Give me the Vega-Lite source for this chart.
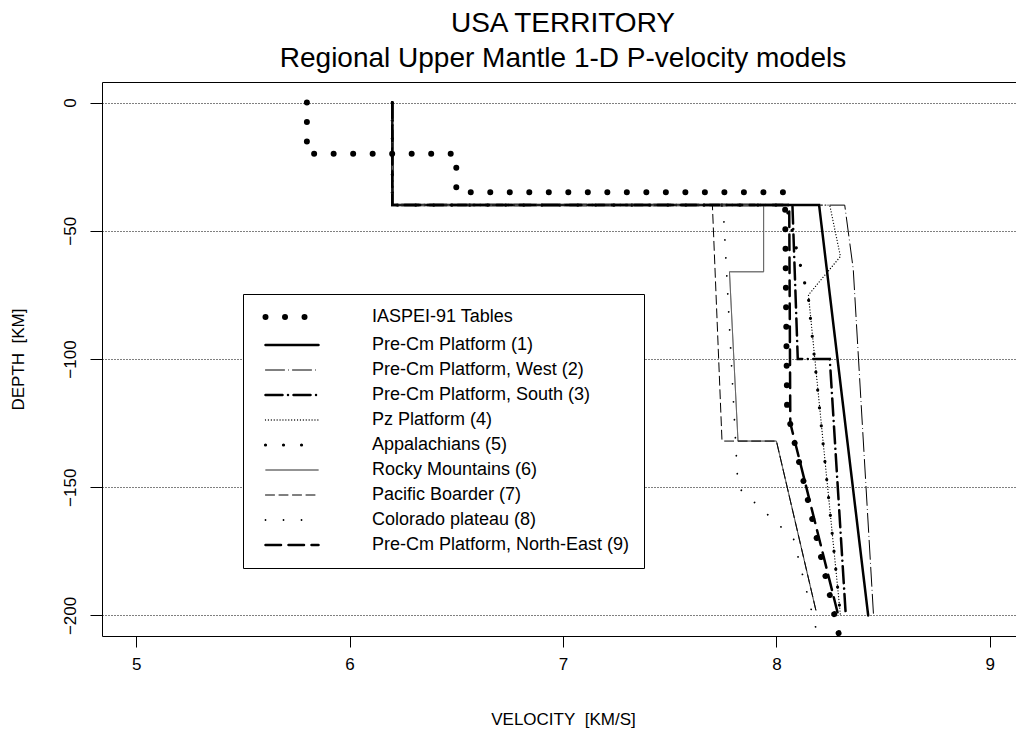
{
  "$schema": "https://vega.github.io/schema/vega-lite/v6.json",
  "autosize": {"type": "none"},
  "width": 922,
  "height": 554,
  "padding": {"left": 102, "top": 82, "right": 0, "bottom": 93},
  "background": "white",
  "title": {
    "text": ["USA TERRITORY", "Regional Upper Mantle 1-D P-velocity models"],
    "anchor": "middle",
    "font": "Liberation Sans",
    "fontSize": 28,
    "fontWeight": "normal",
    "color": "black",
    "lineHeight": 35,
    "offset": 9
  },
  "config": {
    "view": {"stroke": "black", "strokeWidth": 1},
    "font": "Liberation Sans",
    "axis": {
      "labelFont": "Liberation Sans",
      "titleFont": "Liberation Sans",
      "labelFontSize": 17,
      "titleFontSize": 17,
      "titleFontWeight": "normal",
      "labelColor": "black",
      "titleColor": "black",
      "tickColor": "black",
      "domain": false
    }
  },
  "data": {
    "values": [
      {"m": "IASPEI-91 Tables", "i": 1, "v": 5.8, "d": 0},
      {"m": "IASPEI-91 Tables", "i": 2, "v": 5.8, "d": -20},
      {"m": "IASPEI-91 Tables", "i": 3, "v": 6.5, "d": -20},
      {"m": "IASPEI-91 Tables", "i": 4, "v": 6.5, "d": -35},
      {"m": "IASPEI-91 Tables", "i": 5, "v": 8.04, "d": -35},
      {"m": "IASPEI-91 Tables", "i": 6, "v": 8.045, "d": -77.5},
      {"m": "IASPEI-91 Tables", "i": 7, "v": 8.05, "d": -120},
      {"m": "IASPEI-91 Tables", "i": 8, "v": 8.175, "d": -165},
      {"m": "IASPEI-91 Tables", "i": 9, "v": 8.3, "d": -210},

      {"m": "Pre-Cm Platform (1)", "i": 1, "v": 6.2, "d": 0},
      {"m": "Pre-Cm Platform (1)", "i": 2, "v": 6.2, "d": -40},
      {"m": "Pre-Cm Platform (1)", "i": 3, "v": 8.2, "d": -40},
      {"m": "Pre-Cm Platform (1)", "i": 4, "v": 8.43, "d": -200},

      {"m": "Pre-Cm Platform, West (2)", "i": 1, "v": 6.2, "d": 0},
      {"m": "Pre-Cm Platform, West (2)", "i": 2, "v": 6.2, "d": -40},
      {"m": "Pre-Cm Platform, West (2)", "i": 3, "v": 8.32, "d": -40},
      {"m": "Pre-Cm Platform, West (2)", "i": 4, "v": 8.36, "d": -65},
      {"m": "Pre-Cm Platform, West (2)", "i": 5, "v": 8.455, "d": -200},

      {"m": "Pre-Cm Platform, South (3)", "i": 1, "v": 6.2, "d": 0},
      {"m": "Pre-Cm Platform, South (3)", "i": 2, "v": 6.2, "d": -40},
      {"m": "Pre-Cm Platform, South (3)", "i": 3, "v": 8.075, "d": -40},
      {"m": "Pre-Cm Platform, South (3)", "i": 4, "v": 8.1, "d": -100},
      {"m": "Pre-Cm Platform, South (3)", "i": 5, "v": 8.25, "d": -100},
      {"m": "Pre-Cm Platform, South (3)", "i": 6, "v": 8.325, "d": -200},

      {"m": "Pz Platform (4)", "i": 1, "v": 6.2, "d": 0},
      {"m": "Pz Platform (4)", "i": 2, "v": 6.2, "d": -40},
      {"m": "Pz Platform (4)", "i": 3, "v": 8.25, "d": -40},
      {"m": "Pz Platform (4)", "i": 4, "v": 8.3, "d": -60},
      {"m": "Pz Platform (4)", "i": 5, "v": 8.15, "d": -75},
      {"m": "Pz Platform (4)", "i": 6, "v": 8.3, "d": -200},

      {"m": "Appalachians (5)", "i": 1, "v": 6.2, "d": 0},
      {"m": "Appalachians (5)", "i": 2, "v": 6.2, "d": -40},
      {"m": "Appalachians (5)", "i": 3, "v": 8.045, "d": -40},
      {"m": "Appalachians (5)", "i": 4, "v": 8.15, "d": -76.5},
      {"m": "Appalachians (5)", "i": 5, "v": 8.3, "d": -200},

      {"m": "Rocky Mountains (6)", "i": 1, "v": 6.2, "d": 0},
      {"m": "Rocky Mountains (6)", "i": 2, "v": 6.2, "d": -40},
      {"m": "Rocky Mountains (6)", "i": 3, "v": 7.94, "d": -40},
      {"m": "Rocky Mountains (6)", "i": 4, "v": 7.94, "d": -66},
      {"m": "Rocky Mountains (6)", "i": 5, "v": 7.78, "d": -66},
      {"m": "Rocky Mountains (6)", "i": 6, "v": 7.82, "d": -132},
      {"m": "Rocky Mountains (6)", "i": 7, "v": 8.0, "d": -132},
      {"m": "Rocky Mountains (6)", "i": 8, "v": 8.185, "d": -198},

      {"m": "Pacific Boarder (7)", "i": 1, "v": 6.2, "d": 0},
      {"m": "Pacific Boarder (7)", "i": 2, "v": 6.2, "d": -40},
      {"m": "Pacific Boarder (7)", "i": 3, "v": 7.7, "d": -40},
      {"m": "Pacific Boarder (7)", "i": 4, "v": 7.745, "d": -132},
      {"m": "Pacific Boarder (7)", "i": 5, "v": 8.0, "d": -132},
      {"m": "Pacific Boarder (7)", "i": 6, "v": 8.185, "d": -198},

      {"m": "Colorado plateau (8)", "i": 1, "v": 6.2, "d": 0},
      {"m": "Colorado plateau (8)", "i": 2, "v": 6.2, "d": -40},
      {"m": "Colorado plateau (8)", "i": 3, "v": 7.75, "d": -40},
      {"m": "Colorado plateau (8)", "i": 4, "v": 7.82, "d": -150},
      {"m": "Colorado plateau (8)", "i": 5, "v": 8.08, "d": -170},
      {"m": "Colorado plateau (8)", "i": 6, "v": 8.185, "d": -205},

      {"m": "Pre-Cm Platform, North-East (9)", "i": 1, "v": 6.2, "d": 0},
      {"m": "Pre-Cm Platform, North-East (9)", "i": 2, "v": 6.2, "d": -40},
      {"m": "Pre-Cm Platform, North-East (9)", "i": 3, "v": 8.06, "d": -40},
      {"m": "Pre-Cm Platform, North-East (9)", "i": 4, "v": 8.065, "d": -125},
      {"m": "Pre-Cm Platform, North-East (9)", "i": 5, "v": 8.29, "d": -200}
    ]
  },
  "mark": {"type": "line", "clip": true, "strokeCap": "round", "strokeJoin": "miter"},
  "encoding": {
    "x": {
      "field": "v",
      "type": "quantitative",
      "scale": {"domain": [4.84, 9.16], "nice": false, "zero": false},
      "axis": {
        "values": [5, 6, 7, 8, 9],
        "grid": false,
        "tickSize": 11,
        "labelPadding": 9,
        "title": "VELOCITY\u00a0\u00a0[KM/S]",
        "titlePadding": 39
      }
    },
    "y": {
      "field": "d",
      "type": "quantitative",
      "scale": {"domain": [-208, 8], "nice": false, "zero": false},
      "axis": {
        "values": [0, -50, -100, -150, -200],
        "grid": true,
        "gridColor": "black",
        "gridDash": [1, 2],
        "gridWidth": 1,
        "tickSize": 12,
        "labelAngle": 270,
        "labelAlign": "center",
        "labelBaseline": "bottom",
        "labelPadding": 11,
        "title": "DEPTH\u00a0\u00a0[KM]",
        "titlePadding": 34
      }
    },
    "order": {"field": "i", "type": "quantitative"},
    "stroke": {
      "field": "m",
      "type": "nominal",
      "scale": {
        "domain": ["IASPEI-91 Tables", "Pre-Cm Platform (1)", "Pre-Cm Platform, West (2)", "Pre-Cm Platform, South (3)", "Pz Platform (4)", "Appalachians (5)", "Rocky Mountains (6)", "Pacific Boarder (7)", "Colorado plateau (8)", "Pre-Cm Platform, North-East (9)"],
        "range": ["black", "black", "black", "black", "black", "black", "#666666", "black", "black", "black"]
      },
      "legend": {
        "orient": "none",
        "legendX": 141,
        "legendY": 212,
        "title": null,
        "strokeColor": "black",
        "fillColor": "white",
        "padding": 14,
        "rowPadding": 7,
        "labelFont": "Liberation Sans",
        "labelFontSize": 18,
        "labelColor": "black",
        "labelLimit": 500,
        "symbolType": "M-5.3,0H5.3",
        "symbolSize": 100,
        "symbolOffset": 26,
        "labelOffset": 71,
        "encode": {
          "symbols": {
            "update": {
              "strokeCap": {"value": "round"},
              "strokeWidth": {"signal": "datum.value === 'IASPEI-91 Tables' ? 6 : datum.value === 'Appalachians (5)' ? 3.2 : datum.value === 'Colorado plateau (8)' ? 1.8 : datum.value === 'Pz Platform (4)' ? 1.3 : (datum.value === 'Pre-Cm Platform (1)' || datum.value === 'Pre-Cm Platform, South (3)' || datum.value === 'Pre-Cm Platform, North-East (9)') ? 2.5 : 1"}
            }
          }
        }
      }
    },
    "strokeDash": {
      "field": "m",
      "type": "nominal",
      "scale": {
        "domain": ["IASPEI-91 Tables", "Pre-Cm Platform (1)", "Pre-Cm Platform, West (2)", "Pre-Cm Platform, South (3)", "Pz Platform (4)", "Appalachians (5)", "Rocky Mountains (6)", "Pacific Boarder (7)", "Colorado plateau (8)", "Pre-Cm Platform, North-East (9)"],
        "range": [[0.01, 19.5], [1, 0], [19, 4, 0.01, 4], [17, 5.5, 0.01, 5.5], [0.01, 2.9], [0.01, 18], [1, 0], [9, 4.5], [0.01, 18], [15.5, 7.5]]
      }
    },
    "strokeWidth": {
      "condition": [
        {"test": "datum.m === 'IASPEI-91 Tables'", "value": 6},
        {"test": "datum.m === 'Pre-Cm Platform (1)'", "value": 2.5},
        {"test": "datum.m === 'Pre-Cm Platform, South (3)'", "value": 2.5},
        {"test": "datum.m === 'Pre-Cm Platform, North-East (9)'", "value": 2.5},
        {"test": "datum.m === 'Appalachians (5)'", "value": 3.2},
        {"test": "datum.m === 'Colorado plateau (8)'", "value": 1.8},
        {"test": "datum.m === 'Pz Platform (4)'", "value": 1.3}
      ],
      "value": 1
    }
  }
}
